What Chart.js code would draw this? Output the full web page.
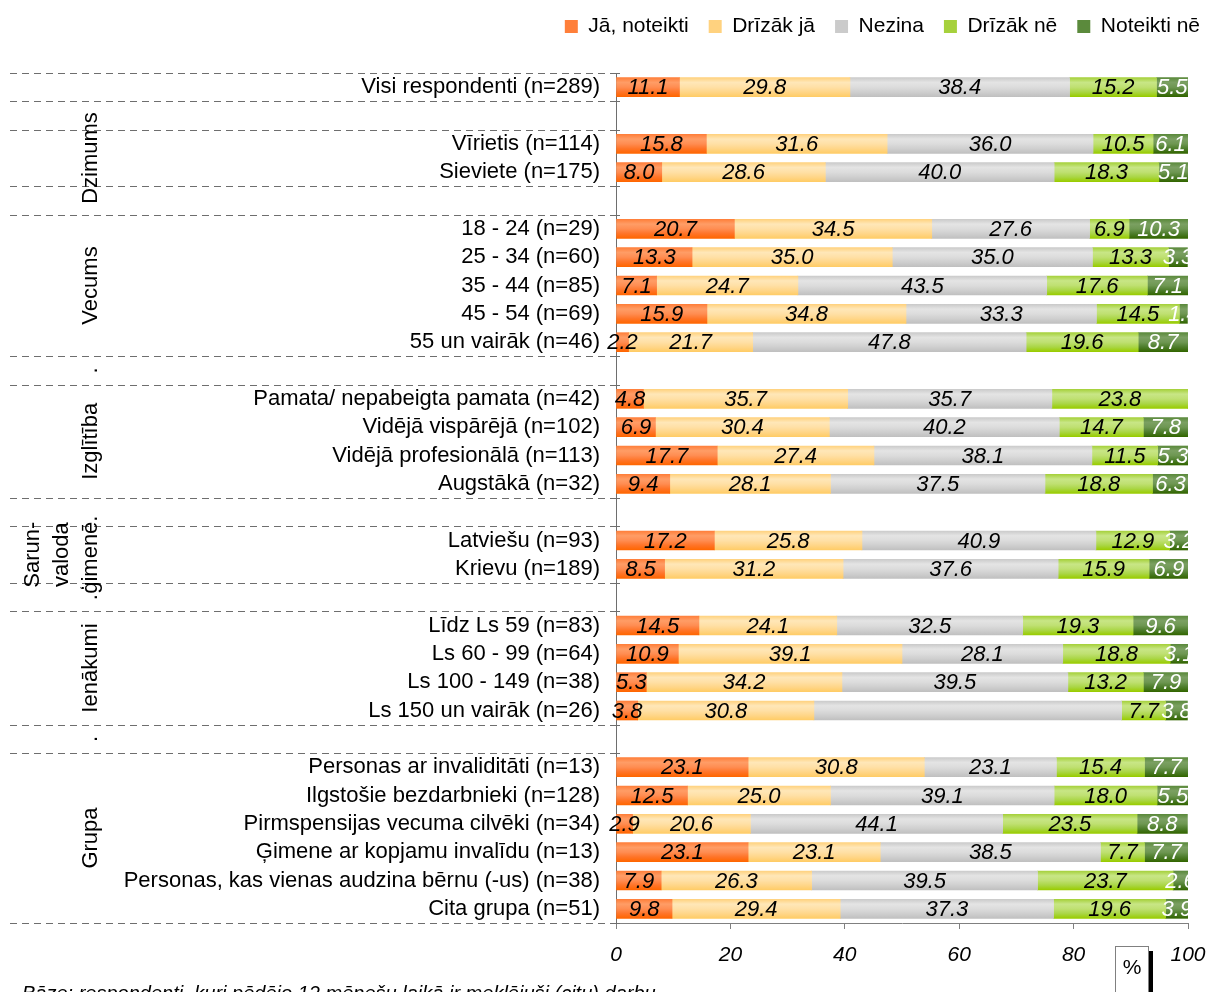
<!DOCTYPE html>
<html>
<head>
<meta charset="utf-8">
<script src="https://cdn.jsdelivr.net/npm/chart.js@4.4.1/dist/chart.umd.min.js"></script>
<style>
  body { margin: 0; background: #fff; }
  canvas { display: block; }
</style>
</head>
<body>
<canvas id="chart" width="1208" height="992"></canvas>
<script>
const FONT = "'Liberation Sans', Arial, sans-serif";

// row labels (empty strings are the spacer rows between groups)
const categories = [
  'Visi respondenti (n=289)', '',
  'Vīrietis (n=114)', 'Sieviete (n=175)', '',
  '18 - 24 (n=29)', '25 - 34 (n=60)', '35 - 44 (n=85)', '45 - 54 (n=69)', '55 un vairāk (n=46)', '',
  'Pamata/ nepabeigta pamata (n=42)', 'Vidējā vispārējā (n=102)', 'Vidējā profesionālā (n=113)', 'Augstākā (n=32)', '',
  'Latviešu (n=93)', 'Krievu (n=189)', '',
  'Līdz Ls 59 (n=83)', 'Ls 60 - 99 (n=64)', 'Ls 100 - 149 (n=38)', 'Ls 150 un vairāk (n=26)', '',
  'Personas ar invaliditāti (n=13)', 'Ilgstošie bezdarbnieki (n=128)', 'Pirmspensijas vecuma cilvēki (n=34)',
  'Ģimene ar kopjamu invalīdu (n=13)', 'Personas, kas vienas audzina bērnu (-us) (n=38)', 'Cita grupa (n=51)'
];

const seriesNames = ['Jā, noteikti', 'Drīzāk jā', 'Nezina', 'Drīzāk nē', 'Noteikti nē'];

const jaNoteikti = [11.1, null, 15.8, 8.0, null, 20.7, 13.3, 7.1, 15.9, 2.2, null, 4.8, 6.9, 17.7, 9.4, null, 17.2, 8.5, null, 14.5, 10.9, 5.3, 3.8, null, 23.1, 12.5, 2.9, 23.1, 7.9, 9.8];
const drizakJa   = [29.8, null, 31.6, 28.6, null, 34.5, 35.0, 24.7, 34.8, 21.7, null, 35.7, 30.4, 27.4, 28.1, null, 25.8, 31.2, null, 24.1, 39.1, 34.2, 30.8, null, 30.8, 25.0, 20.6, 23.1, 26.3, 29.4];
const nezina     = [38.4, null, 36.0, 40.0, null, 27.6, 35.0, 43.5, 33.3, 47.8, null, 35.7, 40.2, 38.1, 37.5, null, 40.9, 37.6, null, 32.5, 28.1, 39.5, 53.8, null, 23.1, 39.1, 44.1, 38.5, 39.5, 37.3];
const drizakNe   = [15.2, null, 10.5, 18.3, null, 6.9, 13.3, 17.6, 14.5, 19.6, null, 23.8, 14.7, 11.5, 18.8, null, 12.9, 15.9, null, 19.3, 18.8, 13.2, 7.7, null, 15.4, 18.0, 23.5, 7.7, 23.7, 19.6];
const noteiktiNe = [5.5, null, 6.1, 5.1, null, 10.3, 3.3, 7.1, 1.4, 8.7, null, 0, 7.8, 5.3, 6.3, null, 3.2, 6.9, null, 9.6, 3.1, 7.9, 3.8, null, 7.7, 5.5, 8.8, 7.7, 2.6, 3.9];

// value labels not printed in the original ([row, series])
const hiddenLabels = [[22, 2]];

// outer axis level: group names and how many rows each covers
const groupNames = ['', '', 'Dzimums', '', 'Vecums', '.', 'Izglītība', '', ['Sarun-', 'valoda', 'ģimenē.'], '.', 'Ienākumi', '.', 'Grupa'];
const groupSizes = [1, 1, 2, 1, 5, 1, 4, 1, 2, 1, 4, 1, 6];

const xTicks = [0, 20, 40, 60, 80, 100];

// gradient stops for each series, top to bottom
const palettes = [
  ['#ff7f3a', '#ff9d66', '#ff8d52', '#ff7428', '#ff6600'],
  ['#ffd27f', '#ffe7b8', '#ffe0a6', '#ffd689', '#ffcc66'],
  ['#cbcbcb', '#e4e4e4', '#dcdcdc', '#cfcfcf', '#c0c0c0'],
  ['#a6d13c', '#c8e686', '#bfe072', '#aad646', '#99cc00'],
  ['#5b8a3c', '#7ba062', '#6e9752', '#4d7d2b', '#336600']
];
const solids = ['#ff7f3a', '#ffd98f', '#d4d4d4', '#b2db52', '#55862f'];

const BAR = 19;

function barFill(si) {
  return function(c) {
    if (c.type !== 'data') return solids[si];
    const y = c.chart.scales.y;
    const yc = y ? y.getPixelForValue(c.dataIndex) : NaN;
    if (!isFinite(yc)) return solids[si];
    const g = c.chart.ctx.createLinearGradient(0, yc - BAR / 2, 0, yc + BAR / 2);
    palettes[si].forEach((col, k) => g.addColorStop(k / 4, col));
    return g;
  };
}

const valueLabels = {
  id: 'valueLabels',
  afterDatasetsDraw(chart) {
    const { ctx, chartArea } = chart;
    ctx.save();
    // labels are cut at the right edge of the plot, like in the original
    ctx.beginPath();
    ctx.rect(0, 0, chartArea.right, chart.height);
    ctx.clip();
    ctx.font = 'italic 22px ' + FONT;
    ctx.textAlign = 'center';
    ctx.textBaseline = 'middle';
    chart.data.datasets.forEach((ds, di) => {
      chart.getDatasetMeta(di).data.forEach((bar, i) => {
        const v = ds.data[i];
        if (!v) return;
        if (hiddenLabels.some(h => h[0] === i && h[1] === di)) return;
        ctx.fillStyle = di === 4 ? '#ffffff' : '#000000';
        ctx.fillText(v.toFixed(1), (bar.x + bar.base) / 2, bar.y + 1);
      });
    });
    ctx.restore();
  }
};

// push the legend a little further right, as in the original
const legendShift = {
  id: 'legendShift',
  beforeDraw(chart) {
    if (chart.legend) chart.legend.right = chart.width + 12;
  }
};

const groupAxis = {
  id: 'groupAxis',
  afterDraw(chart) {
    const { ctx, chartArea, scales: { y } } = chart;
    const edge = i => {
      if (i <= 0) return chartArea.top;
      if (i >= categories.length) return chartArea.bottom;
      return (y.getPixelForValue(i - 1) + y.getPixelForValue(i)) / 2;
    };
    ctx.save();
    ctx.strokeStyle = '#6e6e6e';
    ctx.lineWidth = 1;
    let pos = 0;
    const bounds = [0];
    groupSizes.forEach(n => { pos += n; bounds.push(pos); });
    bounds.forEach(b => {
      const py = Math.round(edge(b)) + 0.5;
      ctx.setLineDash([7, 5]);
      ctx.beginPath(); ctx.moveTo(10, py); ctx.lineTo(chartArea.left, py); ctx.stroke();
      ctx.setLineDash([]);
      ctx.beginPath(); ctx.moveTo(chartArea.left, py); ctx.lineTo(chartArea.left + 4, py); ctx.stroke();
    });

    // rotated group names
    ctx.fillStyle = '#000';
    ctx.font = '22px ' + FONT;
    ctx.textAlign = 'center';
    ctx.textBaseline = 'middle';
    pos = 0;
    groupNames.forEach((name, g) => {
      const cy = (edge(pos) + edge(pos + groupSizes[g])) / 2;
      pos += groupSizes[g];
      const lines = Array.isArray(name) ? name : [name];
      lines.forEach((line, k) => {
        const x = 91 - (lines.length - 1 - k) * 29;
        ctx.save();
        ctx.translate(x, cy);
        ctx.rotate(-Math.PI / 2);
        ctx.fillText(line, 0, 0);
        ctx.restore();
      });
    });

    // footnote (cut by the bottom edge as in the original)
    ctx.textAlign = 'left';
    ctx.textBaseline = 'top';
    ctx.font = 'italic 20px ' + FONT;
    ctx.fillText('Bāze: respondenti, kuri pēdējo 12 mēnešu laikā ir meklējuši (citu) darbu', 22, 984);

    // "%" unit box
    ctx.fillStyle = '#000';
    ctx.fillRect(1148, 951, 5, 50);
    ctx.fillStyle = '#fff';
    ctx.fillRect(1115, 946, 33, 55);
    ctx.strokeStyle = '#808080';
    ctx.strokeRect(1115.5, 946.5, 33, 55);
    ctx.fillStyle = '#000';
    ctx.font = '21px ' + FONT;
    ctx.textAlign = 'center';
    ctx.textBaseline = 'middle';
    ctx.fillText('%', 1132, 968);
    ctx.restore();
  }
};

const seriesData = [jaNoteikti, drizakJa, nezina, drizakNe, noteiktiNe];

new Chart(document.getElementById('chart'), {
  type: 'bar',
  data: {
    labels: categories,
    datasets: seriesNames.map((name, si) => ({
      label: name,
      data: seriesData[si],
      backgroundColor: barFill(si),
      borderWidth: 0,
      barThickness: BAR
    }))
  },
  options: {
    indexAxis: 'y',
    responsive: false,
    animation: false,
    layout: { padding: { top: -4, left: 0, right: 0, bottom: 0 } },
    scales: {
      x: {
        stacked: true,
        min: 0,
        max: 100,
        afterBuildTicks(s) { s.ticks = xTicks.map(v => ({ value: v })); },
        ticks: { color: '#000', padding: 14, font: { family: FONT, size: 21, style: 'italic' } },
        grid: { drawOnChartArea: false, tickLength: 6, color: '#808080' },
        border: { color: '#808080' },
        afterFit(s) { s.height = 69; s.paddingRight = 20; }
      },
      y: {
        stacked: true,
        grid: { display: false, drawTicks: false },
        border: { display: true, dash: [6, 4], color: '#6e6e6e' },
        ticks: { autoSkip: false, padding: 16, color: '#000', font: { family: FONT, size: 22 } },
        afterFit(s) { s.width = 616; }
      }
    },
    plugins: {
      legend: {
        position: 'top',
        align: 'end',
        labels: { boxWidth: 13, boxHeight: 13, padding: 20, color: '#000', font: { family: FONT, size: 21 } }
      },
      title: { display: true, text: '', padding: { top: 0, bottom: 8 }, weight: 500, font: { size: 15, lineHeight: 1.2 } },
      tooltip: { enabled: false }
    }
  },
  plugins: [valueLabels, legendShift, groupAxis]
});
</script>
</body>
</html>
